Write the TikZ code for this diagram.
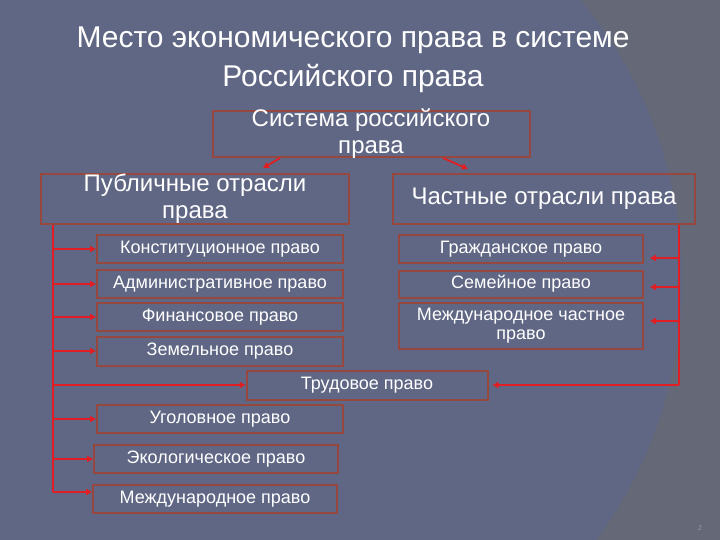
\documentclass[tikz,border=0pt]{standalone}
\usepackage{fontspec}
\setmainfont{Liberation Sans}
\usetikzlibrary{arrows.meta}
\definecolor{bgA}{RGB}{96,103,132}
\definecolor{bgB}{RGB}{101,104,118}
\definecolor{boxc}{RGB}{150,72,62}
\definecolor{linec}{RGB}{225,30,35}
\definecolor{pgc}{RGB}{150,155,170}
\begin{document}
\begin{tikzpicture}[x=1pt,y=-1pt,
  box/.style={draw=boxc,line width=2pt,inner sep=0pt,text=white,align=center},
  bigbox/.style={box,inner ysep=-4pt,font=\fontsize{24}{27}\selectfont},
  smallbox/.style={box,font=\fontsize{18}{19}\selectfont,minimum height=28pt},
  conn/.style={draw=linec,line width=1.8pt},
  arr/.style={conn,-{Triangle[length=6pt,width=6pt]}}]
\useasboundingbox (0,0) rectangle (720,540);
\fill[bgB] (0,0) rectangle (720,540);
\begin{scope}
\clip (0,0) rectangle (720,540);
\fill[bgA] (246,280) circle[radius=436pt];
\end{scope}

\node[font=\fontsize{30}{39}\selectfont,text=white,align=center] (title) at (353,60)
  {Место экономического права в системе\\Российского права};

\node[bigbox,minimum width=317pt,minimum height=46pt] (sist) at (371,134) {Система российского\\права};
\node[bigbox,minimum width=308pt,minimum height=50pt] (pub) at (195,199) {Публичные отрасли\\права};
\node[bigbox,minimum width=302pt,minimum height=50pt] (chast) at (544,199) {Частные отрасли права};

\node[smallbox,minimum width=246pt] (konst) at (220,249) {Конституционное право};
\node[smallbox,minimum width=246pt] (admin) at (220,284) {Административное право};
\node[smallbox,minimum width=246pt] (fin) at (220,317) {Финансовое право};
\node[smallbox,minimum width=246pt,minimum height=29pt] (zem) at (220,351) {Земельное право};
\node[smallbox,minimum width=241pt,minimum height=29pt] (trud) at (367,385) {Трудовое право};
\node[smallbox,minimum width=246pt] (ugol) at (220,419) {Уголовное право};
\node[smallbox,minimum width=244pt] (eko) at (216,459) {Экологическое право};
\node[smallbox,minimum width=244pt] (mezh) at (215,499) {Международное право};

\node[smallbox,minimum width=244pt] (grazh) at (521,249) {Гражданское право};
\node[smallbox,minimum width=244pt,minimum height=27pt] (sem) at (521,284) {Семейное право};
\node[smallbox,minimum width=244pt,minimum height=46pt] (mchp) at (521,326) {Международное частное\\право};

\node[font=\fontsize{7}{8}\selectfont,text=pgc] (pg) at (700,528) {2};

% top connectors
\coordinate (pa) at (263,168);
\coordinate (ca) at (468,169);
\draw[arr] ([xshift=-91pt]sist.south) -- (pa);
\draw[arr] ([xshift=72pt]sist.south) -- (ca);

% left trunk
\coordinate (lb) at (53,492);
\draw[conn] (pub.south -| lb) -- (lb);
\foreach \n in {konst,admin,fin,zem,trud,ugol,eko}
  \draw[arr] (lb |- \n.west) -- (\n.west);
\draw[arr] (lb) -- (mezh.west |- lb);

% right trunk
\coordinate (rb) at (679,385);
\draw[conn] (chast.south -| rb) -- (rb);
\draw[arr,shorten >=4pt] (rb) -- (trud.east |- rb);
\path ([yshift=-9pt]grazh.east) coordinate (g1)
      ([yshift=-3pt]sem.east) coordinate (s1)
      ([yshift=5pt]mchp.east) coordinate (m1);
\foreach \c in {g1,s1,m1}
  \draw[arr,shorten >=6pt] (rb |- \c) -- (\c);
\end{tikzpicture}
\end{document}
